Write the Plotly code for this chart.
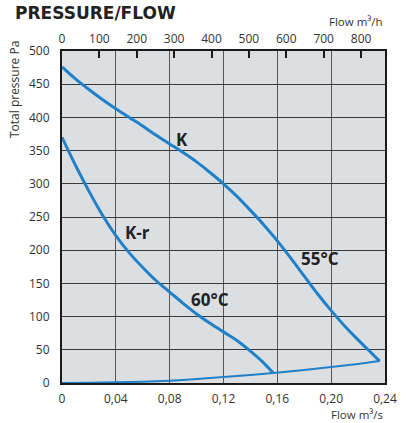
import plotly.graph_objects as go

# Flow in m3/s, pressure in Pa
k_flow = [0, 0.01, 0.02, 0.03, 0.04, 0.05, 0.06, 0.07, 0.08, 0.09, 0.10, 0.11, 0.12, 0.13, 0.14, 0.15,
          0.16, 0.17, 0.18, 0.19, 0.20, 0.21, 0.22, 0.23, 0.236]
k_pressure = [476, 458, 442, 427, 413, 400, 387, 373, 360, 347, 333, 317, 300, 281, 260, 238,
              214, 188, 161, 134, 109, 86, 65, 45, 33]

kr_flow = [0, 0.01, 0.02, 0.03, 0.04, 0.05, 0.06, 0.07, 0.08, 0.09, 0.10, 0.11, 0.12, 0.13, 0.14, 0.15, 0.157]
kr_pressure = [370, 328, 289, 253, 222, 196, 174, 154, 137, 120, 104, 90, 77, 64, 48, 30, 15]

sys_flow = [0, 0.02, 0.04, 0.06, 0.08, 0.10, 0.12, 0.14, 0.157, 0.18, 0.20, 0.22, 0.236]
sys_pressure = [0, 0.2, 1, 2, 3.5, 6, 9, 12, 15, 19.5, 24, 28.5, 33]

x_ticks = [0, 0.04, 0.08, 0.12, 0.16, 0.20, 0.24]
x_tick_labels = ["0", "0,04", "0,08", "0,12", "0,16", "0,20", "0,24"]
top_ticks = [0, 100, 200, 300, 400, 500, 600, 700, 800]
y_ticks = [0, 50, 100, 150, 200, 250, 300, 350, 400, 450, 500]

curve_labels = ["K", "K-r", "60°C", "55°C"]
label_flow = [0.0888, 0.0562, 0.1096, 0.1919]
label_pressure = [366, 226, 126, 187]

BLUE = "#2080c8"
FONT = "Open Sans"

fig = go.Figure()
fig.add_trace(go.Scatter(x=sys_flow, y=sys_pressure, mode="lines",
                         line=dict(color=BLUE, width=2, shape="spline", smoothing=0.6),
                         hoverinfo="skip"))
fig.add_trace(go.Scatter(x=k_flow, y=k_pressure, mode="lines",
                         line=dict(color=BLUE, width=3, shape="spline", smoothing=1),
                         hoverinfo="skip"))
fig.add_trace(go.Scatter(x=kr_flow, y=kr_pressure, mode="lines",
                         line=dict(color=BLUE, width=3, shape="spline", smoothing=1),
                         hoverinfo="skip"))
# invisible trace for top axis
fig.add_trace(go.Scatter(x=[0, 864], y=[None, None], xaxis="x2", mode="lines",
                         showlegend=False, hoverinfo="skip"))

for t, xv, yv in zip(curve_labels, label_flow, label_pressure):
    fig.add_annotation(x=xv, y=yv, text=t, showarrow=False,
                       font=dict(family=FONT, size=17, color="#222222", weight="bold"))

fig.add_annotation(xref="paper", yref="paper", x=-0.153, y=1.113, xanchor="left", yanchor="middle",
                   text="PRESSURE/FLOW", showarrow=False,
                   font=dict(family="DejaVu Sans", size=17, color="#222222", weight="bold"))
fig.add_annotation(xref="paper", yref="paper", x=1.0, y=1.088, xanchor="right", yanchor="middle",
                   text="Flow m³/h", showarrow=False,
                   font=dict(family=FONT, size=11.5, color="#333333"))
fig.add_annotation(xref="paper", yref="paper", x=1.0, y=-0.096, xanchor="right", yanchor="middle",
                   text="Flow m³/s", showarrow=False,
                   font=dict(family=FONT, size=11.5, color="#333333"))
fig.add_annotation(xref="paper", yref="paper", x=-0.147, y=0.884, xanchor="center", yanchor="middle",
                   text="Total pressure Pa", textangle=-90, showarrow=False,
                   font=dict(family=FONT, size=12, color="#333333"))

fig.update_layout(
    width=409, height=423,
    margin=dict(l=62, r=13, t=51, b=40),
    paper_bgcolor="white",
    plot_bgcolor="#dcdfe2",
    showlegend=False,
    font=dict(family=FONT, size=12, color="#333333"),
    xaxis=dict(range=[0, 0.24], tickvals=x_ticks, ticktext=x_tick_labels,
               showgrid=True, gridcolor="#555555", gridwidth=1,
               showline=True, linecolor="#1a1a1a", linewidth=2, mirror=True,
               zeroline=False, ticks="", ticklabelstandoff=4, fixedrange=True),
    xaxis2=dict(range=[0, 864], overlaying="x", side="top", tickvals=top_ticks,
                showgrid=False, zeroline=False, ticks="inside", ticklen=7,
                tickwidth=1.5, tickcolor="#1a1a1a", ticklabelstandoff=5, fixedrange=True),
    yaxis=dict(range=[0, 500], tickvals=y_ticks,
               showgrid=True, gridcolor="#3a3a3a", gridwidth=1,
               showline=True, linecolor="#1a1a1a", linewidth=2, mirror=True,
               zeroline=False, ticks="", ticklabelstandoff=8, fixedrange=True),
)

fig.write_html("out.html", config={"displayModeBar": False},
               post_script="document.body.style.margin='0';document.body.style.overflow='hidden';")
